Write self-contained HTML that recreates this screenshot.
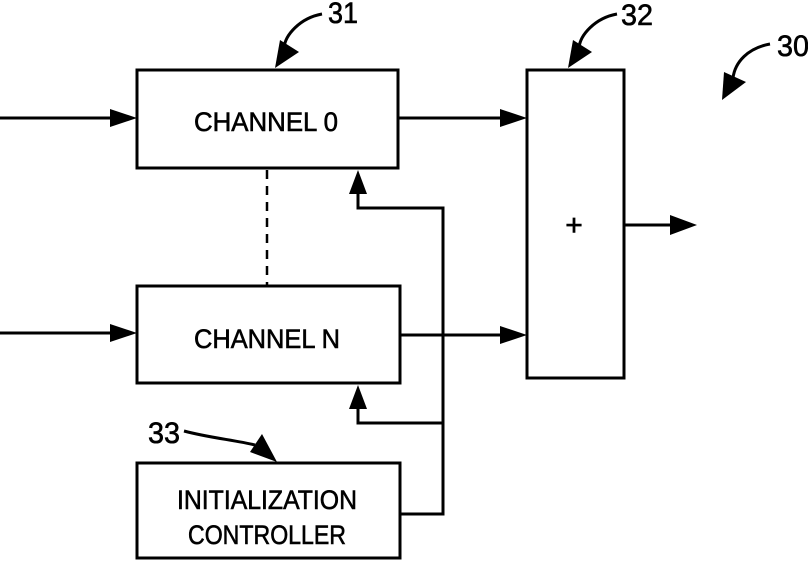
<!DOCTYPE html>
<html><head><style>html,body{margin:0;padding:0;background:#fff;width:808px;height:563px;overflow:hidden}</style></head>
<body>
<svg width="808" height="563" viewBox="0 0 808 563" xmlns="http://www.w3.org/2000/svg" font-family="Liberation Sans, sans-serif">
<g fill="none" stroke="#000" stroke-width="3">
<rect x="137" y="70" width="261" height="98"/>
<rect x="137" y="286" width="263" height="97"/>
<rect x="137" y="463" width="263" height="95"/>
<rect x="527" y="70" width="97" height="308"/>
<line x1="267" y1="170" x2="267" y2="286" stroke-dasharray="9,7" stroke-width="2.5"/>
<polyline points="400,514 443,514 443,208 358,208 358,192"/>
<polyline points="443,423 358,423 358,407"/>
<line x1="0" y1="118" x2="112" y2="118"/>
<line x1="0" y1="333" x2="112" y2="333"/>
<line x1="398" y1="118" x2="502" y2="118"/>
<line x1="400" y1="335" x2="502" y2="335"/>
<line x1="624" y1="225" x2="672" y2="225"/>
<path d="M322,14 C300,18 285,35 284,48"/>
<path d="M617,14 C595,18 580,35 579,48"/>
<path d="M770,44 C748,48 735,62 733,78"/>
<path d="M184,431 C210,438 235,440 255,445"/>
</g>
<g fill="#000">
<path d="M110,109 L137,118 L110,127z"/>
<path d="M110,324 L137,333 L110,342z"/>
<path d="M500,109 L527,118 L500,127z"/>
<path d="M500,326 L527,335 L500,344z"/>
<path d="M670,215 L697,225 L670,235z"/>
<path d="M349,194 L358,170 L367,194z"/>
<path d="M349,409 L358,385 L367,409z"/>
<path d="M275,68 L280,40 L299,52z"/>
<path d="M568,68 L573,40 L592,52z"/>
<path d="M722,100 L724,72 L746,82z"/>
<path d="M277,462 L250,452 L262,434z"/>
</g>
<g font-size="27" text-anchor="middle" fill="#000" stroke="#000" stroke-width="0.6">
<text x="266" y="131" textLength="144" lengthAdjust="spacingAndGlyphs">CHANNEL  0</text>
<text x="267" y="348" textLength="146" lengthAdjust="spacingAndGlyphs">CHANNEL  N</text>
<text x="267" y="509" textLength="180" lengthAdjust="spacingAndGlyphs">INITIALIZATION</text>
<text x="267" y="544" textLength="158" lengthAdjust="spacingAndGlyphs">CONTROLLER</text>
<text x="574" y="235" font-size="30">+</text>
<text x="343" y="23" font-size="30" textLength="30" lengthAdjust="spacingAndGlyphs">31</text>
<text x="637" y="25" font-size="30" textLength="32" lengthAdjust="spacingAndGlyphs">32</text>
<text x="793" y="56" font-size="30" textLength="32" lengthAdjust="spacingAndGlyphs">30</text>
<text x="164" y="443" font-size="30" textLength="32" lengthAdjust="spacingAndGlyphs">33</text>
</g>
</svg>
</body></html>
